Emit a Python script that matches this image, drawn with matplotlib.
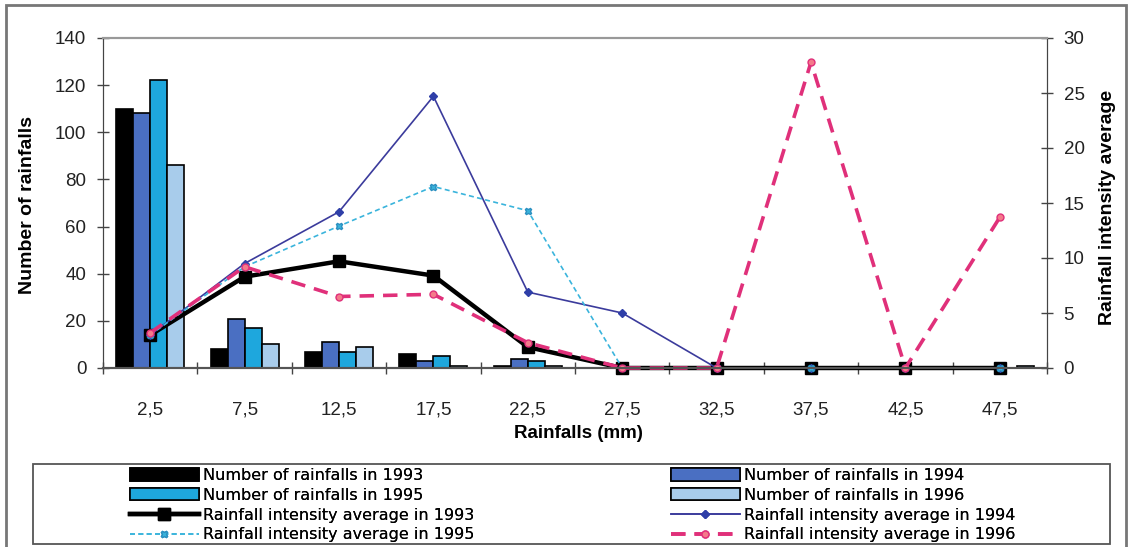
import matplotlib.pyplot as plt
from matplotlib.patches import Rectangle
import numpy as np

plt.rcParams['font.family'] = ['Liberation Sans', 'DejaVu Sans']

# data
categories = ["2,5", "7,5", "12,5", "17,5", "22,5", "27,5", "32,5", "37,5", "42,5", "47,5"]

count_1993 = [110, 8, 7, 6, 1, 0, 0, 0, 0, 0]
count_1994 = [108, 21, 11, 3, 4, 0, 0, 0, 0, 0]
count_1995 = [122, 17, 7, 5, 3, 0, 0, 0, 0, 0]
count_1996 = [86, 10, 9, 1, 1, 0, 0, 0.6, 0, 0.8]

intensity_1993 = [3.0, 8.3, 9.7, 8.4, 1.9, 0, 0, 0, 0, 0]
intensity_1994 = [3.0, 9.5, 14.2, 24.7, 6.9, 5.0, 0, 0, 0, 0]
intensity_1995 = [3.0, 9.2, 12.9, 16.5, 14.3, 0, 0, 0, 0, 0]
intensity_1996 = [3.2, 9.2, 6.5, 6.7, 2.3, 0, 0, 27.8, 0, 13.7]

W, H = 1131, 547
fig = plt.figure(figsize=(W / 100, H / 100), dpi=100)
ax = fig.add_axes([103 / W, 1 - 368 / H, (1047 - 103) / W, (368 - 38) / H])
ax2 = ax.twinx()

x = np.arange(len(categories))
bw = 0.18
bar_sets = [
    (count_1993, "#000000", "Number of rainfalls in 1993"),
    (count_1994, "#4a6fc2", "Number of rainfalls in 1994"),
    (count_1995, "#1ea7dd", "Number of rainfalls in 1995"),
    (count_1996, "#a8cceb", "Number of rainfalls in 1996"),
]
bar_handles = []
for i, (vals, col, lab) in enumerate(bar_sets):
    h = ax.bar(x + (i - 1.5) * bw, vals, width=bw, color=col, edgecolor="black",
               linewidth=1.2, label=lab)
    bar_handles.append(h)

l93, = ax2.plot(x, intensity_1993, color="black", lw=3.2, marker="s", markersize=8.5,
                markerfacecolor="black", markeredgecolor="black", clip_on=False,
                label="Rainfall intensity average in 1993")
l94, = ax2.plot(x, intensity_1994, color="#3b3b9c", lw=1.2, marker="D", markersize=4,
                markerfacecolor="#2f3fa8", markeredgecolor="#2f3fa8", clip_on=False,
                label="Rainfall intensity average in 1994")
l95, = ax2.plot(x, intensity_1995, color="#3ab4dc", lw=1.2, ls=(0, (3, 2)), marker="X",
                markersize=5, markerfacecolor="#3ab4dc", markeredgecolor="#2a8fc0",
                clip_on=False, label="Rainfall intensity average in 1995")
l96, = ax2.plot(x, intensity_1996, color="#e0307a", lw=2.6, ls=(0, (4, 2.5)), marker="o",
                markersize=5, markerfacecolor="#f47a8a", markeredgecolor="#e0307a",
                clip_on=False, label="Rainfall intensity average in 1996")

ax.set_xlim(-0.5, len(categories) - 0.5)
ax.set_ylim(0, 140)
ax2.set_ylim(0, 30)
ax.set_yticks(range(0, 141, 20))
ax2.set_yticks(range(0, 31, 5))

# category ticks: marks at group borders, labels at centres
ax.set_xticks(x)
ax.set_xticklabels(categories)
ax.set_xticks(np.arange(-0.5, len(categories) + 0.5, 1), minor=True)
ax.tick_params(axis="x", which="major", length=0, pad=24, labelsize=13.5, labelcolor="#222222")
ax.tick_params(axis="x", which="minor", direction="inout", length=9, width=1, color="#444444")
ax.tick_params(axis="y", direction="inout", length=8, width=1, pad=8, labelsize=13.5,
               labelcolor="#222222", color="#444444")
ax2.tick_params(axis="y", direction="inout", length=8, width=1, pad=8, labelsize=13.5,
                labelcolor="#222222", color="#444444")

for a in (ax, ax2):
    a.spines["top"].set_color("#999999")
    a.spines["top"].set_linewidth(1.5)
    a.spines["left"].set_color("#444444")
    a.spines["right"].set_color("#444444")
    a.spines["bottom"].set_color("#555555")
    a.spines["bottom"].set_linewidth(1.5)

fig.text(28 / W, 1 - 205 / H, "Number of rainfalls", rotation=90, ha="center", va="center",
         fontsize=14, fontweight="bold")
fig.text(1107 / W, 1 - 207 / H, "Rainfall intensity average", rotation=90, ha="center",
         va="center", fontsize=14, fontweight="bold")
fig.text(578 / W, 1 - 433 / H, "Rainfalls (mm)", ha="center", va="center",
         fontsize=13.5, fontweight="bold")

# outer frame and legend box
fig.patches.append(Rectangle((6 / W, -0.01), (1126 - 6) / W, 1 - 5 / H + 0.01,
                             transform=fig.transFigure, fill=False, edgecolor="#777777",
                             linewidth=2))
fig.patches.append(Rectangle((33 / W, 1 - 544 / H), (1110 - 33) / W, (544 - 464) / H,
                             transform=fig.transFigure, fill=False, edgecolor="#555555",
                             linewidth=1.3))

leg_font = {"family": ["DejaVu Sans"], "size": 11.5}
col1 = [bar_handles[0], bar_handles[2], l93, l95]
col2 = [bar_handles[1], bar_handles[3], l94, l96]
for handles, x0 in ((col1, 130), (col2, 671)):
    lg = fig.legend(handles=handles, labels=[h.get_label() for h in handles],
                    loc="upper left", bbox_to_anchor=(x0 / W, 1 - 468 / H), frameon=False,
                    prop=leg_font, handlelength=4.3, handletextpad=0.3, labelspacing=0.3,
                    borderpad=0, borderaxespad=0, handleheight=0.8)
    fig.add_artist(lg)

fig.savefig("out.png", dpi=100)
